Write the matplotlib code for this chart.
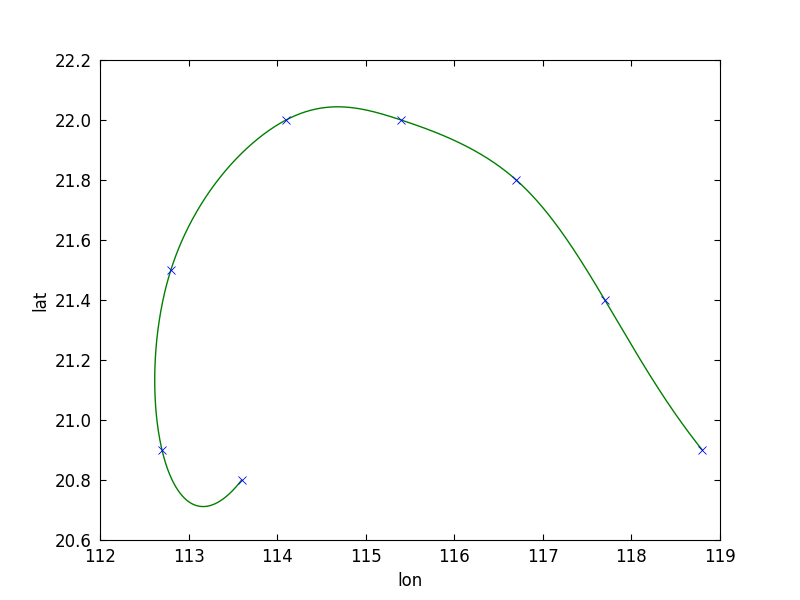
import numpy as np
import matplotlib
matplotlib.use("Agg")
import matplotlib.pyplot as plt

lon = [113.6, 112.7, 112.8, 114.1, 115.4, 116.7, 117.7, 118.8]
lat = [20.8, 20.9, 21.5, 22.0, 22.0, 21.8, 21.4, 20.9]


def notaknot_spline(t, y, tt):
    t = np.asarray(t, float)
    y = np.asarray(y, float)
    n = len(t)
    h = np.diff(t)
    A = np.zeros((n, n))
    b = np.zeros(n)
    A[0, 0] = h[1]
    A[0, 1] = -(h[0] + h[1])
    A[0, 2] = h[0]
    for i in range(1, n - 1):
        A[i, i - 1] = h[i - 1]
        A[i, i] = 2 * (h[i - 1] + h[i])
        A[i, i + 1] = h[i]
        b[i] = 6 * ((y[i + 1] - y[i]) / h[i] - (y[i] - y[i - 1]) / h[i - 1])
    A[n - 1, n - 3] = h[n - 2]
    A[n - 1, n - 2] = -(h[n - 3] + h[n - 2])
    A[n - 1, n - 1] = h[n - 3]
    M = np.linalg.solve(A, b)
    idx = np.clip(np.searchsorted(t, tt) - 1, 0, n - 2)
    t0 = t[idx]
    t1 = t[idx + 1]
    hh = h[idx]
    return (M[idx] * (t1 - tt) ** 3 / (6 * hh) + M[idx + 1] * (tt - t0) ** 3 / (6 * hh)
            + (y[idx] / hh - M[idx] * hh / 6) * (t1 - tt)
            + (y[idx + 1] / hh - M[idx + 1] * hh / 6) * (tt - t0))


x = np.array(lon)
y = np.array(lat)
d = np.sqrt(np.diff(x) ** 2 + np.diff(y) ** 2)
u = np.concatenate([[0], np.cumsum(d ** 0.25)])
uu = np.linspace(0, u[-1], 800)
xs = notaknot_spline(u, x, uu)
ys = notaknot_spline(u, y, uu)

plt.rcParams['font.family'] = ['DejaVu Sans']
plt.rcParams['font.size'] = 12
plt.rcParams['xtick.direction'] = 'in'
plt.rcParams['ytick.direction'] = 'in'
plt.rcParams['xtick.top'] = True
plt.rcParams['ytick.right'] = True
plt.rcParams['xtick.major.size'] = 4
plt.rcParams['ytick.major.size'] = 4
plt.rcParams['xtick.major.pad'] = 6
plt.rcParams['ytick.major.pad'] = 6

fig = plt.figure(figsize=(8, 6), dpi=100)
ax = fig.add_axes([0.125, 0.1, 0.775, 0.8])
ax.plot(xs, ys, '-', color='g', linewidth=1.0)
ax.plot(x, y, 'x', color='b', markersize=6, markeredgewidth=0.6)
ax.set_xlim(112, 119)
ax.set_ylim(20.6, 22.2)
ax.set_xticks(np.arange(112, 119.5, 1))
ax.set_yticks(np.arange(20.6, 22.25, 0.2))
ax.set_yticklabels(['%.1f' % v for v in np.arange(20.6, 22.25, 0.2)])
ax.set_xticklabels(['%d' % v for v in np.arange(112, 119.5, 1)])
ax.set_xlabel('lon')
ax.set_ylabel('lat')
fig.savefig('out.png', dpi=100)
